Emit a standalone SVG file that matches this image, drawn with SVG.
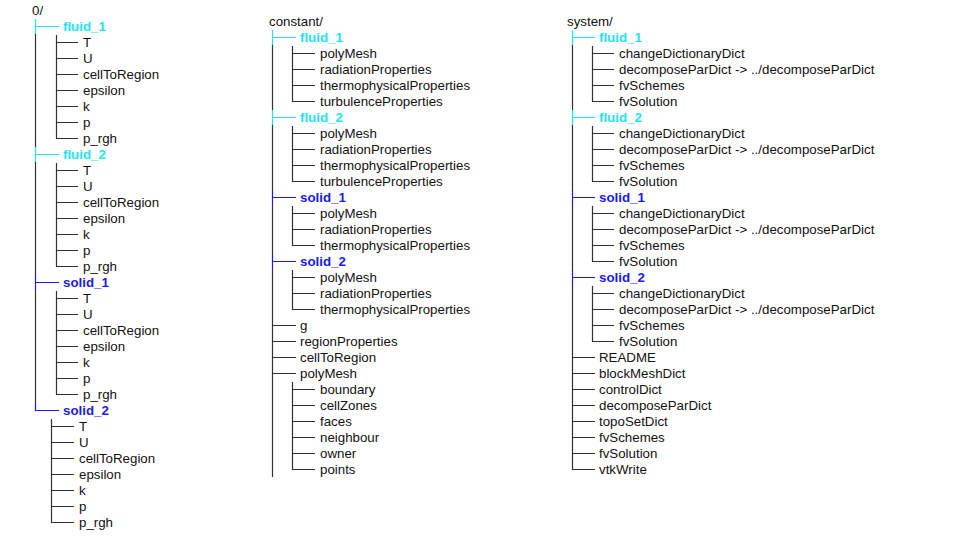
<svg xmlns="http://www.w3.org/2000/svg" width="960" height="540" viewBox="0 0 960 540">
<style>
text{font-family:"Liberation Sans",Arial,sans-serif;font-size:13.3px;fill:#111}
.b{font-weight:bold}
.c{fill:#1ee4f2}
.u{fill:#1a1af0}
.g{stroke:#333;stroke-width:1.2;fill:none}
.lc{stroke:#1ee4f2;stroke-width:1.2;fill:none}
.lu{stroke:#1a1af0;stroke-width:1.2;fill:none}
</style>
<rect width="960" height="540" fill="#fff"/>
<g id="connectors">
<!-- column 0/ -->
<path class="lc" d="M35.5 19V34M35.5 26.5H59M35.5 147V162M35.5 154.5H59"/>
<path class="lu" d="M35.5 275V290M35.5 282.5H59M35.5 403V410.5H59"/>
<path class="g" d="M35.5 34V147M35.5 162V275M35.5 290V403"/>
<path class="g" d="M56.5 35V138.5H78M56.5 42.5H78M56.5 58.5H78M56.5 74.5H78M56.5 90.5H78M56.5 106.5H78M56.5 122.5H78"/>
<path class="g" d="M56.5 163V266.5H78M56.5 170.5H78M56.5 186.5H78M56.5 202.5H78M56.5 218.5H78M56.5 234.5H78M56.5 250.5H78"/>
<path class="g" d="M56.5 291V394.5H78M56.5 298.5H78M56.5 314.5H78M56.5 330.5H78M56.5 346.5H78M56.5 362.5H78M56.5 378.5H78"/>
<path class="g" d="M51.5 419V522.5H74M51.5 426.5H74M51.5 442.5H74M51.5 458.5H74M51.5 474.5H74M51.5 490.5H74M51.5 506.5H74"/>
<!-- column constant/ -->
<path class="lc" d="M272.5 30V45M272.5 37.5H296M272.5 110V125M272.5 117.5H296"/>
<path class="lu" d="M272.5 190V205M272.5 197.5H296M272.5 254V269M272.5 261.5H296"/>
<path class="g" d="M272.5 45V110M272.5 125V190M272.5 205V254M272.5 269V477"/>
<path class="g" d="M272.5 325.5H296M272.5 341.5H296M272.5 357.5H296M272.5 373.5H296"/>
<path class="g" d="M292.5 46V101.5H315M292.5 53.5H315M292.5 69.5H315M292.5 85.5H315"/>
<path class="g" d="M292.5 126V181.5H315M292.5 133.5H315M292.5 149.5H315M292.5 165.5H315"/>
<path class="g" d="M292.5 206V245.5H315M292.5 213.5H315M292.5 229.5H315"/>
<path class="g" d="M292.5 270V309.5H315M292.5 277.5H315M292.5 293.5H315"/>
<path class="g" d="M292.5 382V469.5H315M292.5 389.5H315M292.5 405.5H315M292.5 421.5H315M292.5 437.5H315M292.5 453.5H315"/>
<!-- column system/ -->
<path class="lc" d="M572.5 30V45M572.5 37.5H595M572.5 110V125M572.5 117.5H595"/>
<path class="lu" d="M572.5 190V205M572.5 197.5H595M572.5 270V285M572.5 277.5H595"/>
<path class="g" d="M572.5 45V110M572.5 125V190M572.5 205V270M572.5 285V469.5H595"/>
<path class="g" d="M572.5 357.5H595M572.5 373.5H595M572.5 389.5H595M572.5 405.5H595M572.5 421.5H595M572.5 437.5H595M572.5 453.5H595"/>
<path class="g" d="M592.5 46V101.5H614M592.5 53.5H614M592.5 69.5H614M592.5 85.5H614"/>
<path class="g" d="M592.5 126V181.5H614M592.5 133.5H614M592.5 149.5H614M592.5 165.5H614"/>
<path class="g" d="M592.5 206V261.5H614M592.5 213.5H614M592.5 229.5H614M592.5 245.5H614"/>
<path class="g" d="M592.5 286V341.5H614M592.5 293.5H614M592.5 309.5H614M592.5 325.5H614"/>
</g>
<g id="dir-0">
<text x="32" y="15">0/</text>
<g id="zero-fluid_1">
<text class="b c" x="63" y="31">fluid_1</text>
<text x="83" y="47">T</text><text x="83" y="63">U</text><text x="83" y="79">cellToRegion</text><text x="83" y="95">epsilon</text><text x="83" y="111">k</text><text x="83" y="127">p</text><text x="83" y="143">p_rgh</text>
</g>
<g id="zero-fluid_2">
<text class="b c" x="63" y="159">fluid_2</text>
<text x="83" y="175">T</text><text x="83" y="191">U</text><text x="83" y="207">cellToRegion</text><text x="83" y="223">epsilon</text><text x="83" y="239">k</text><text x="83" y="255">p</text><text x="83" y="271">p_rgh</text>
</g>
<g id="zero-solid_1">
<text class="b u" x="63" y="287">solid_1</text>
<text x="83" y="303">T</text><text x="83" y="319">U</text><text x="83" y="335">cellToRegion</text><text x="83" y="351">epsilon</text><text x="83" y="367">k</text><text x="83" y="383">p</text><text x="83" y="399">p_rgh</text>
</g>
<g id="zero-solid_2">
<text class="b u" x="63" y="415">solid_2</text>
<text x="79" y="431">T</text><text x="79" y="447">U</text><text x="79" y="463">cellToRegion</text><text x="79" y="479">epsilon</text><text x="79" y="495">k</text><text x="79" y="511">p</text><text x="79" y="527">p_rgh</text>
</g>
</g>
<g id="dir-constant">
<text x="269" y="26">constant/</text>
<g id="constant-fluid_1">
<text class="b c" x="300" y="42">fluid_1</text>
<text x="320" y="58">polyMesh</text><text x="320" y="74">radiationProperties</text><text x="320" y="90">thermophysicalProperties</text><text x="320" y="106">turbulenceProperties</text>
</g>
<g id="constant-fluid_2">
<text class="b c" x="300" y="122">fluid_2</text>
<text x="320" y="138">polyMesh</text><text x="320" y="154">radiationProperties</text><text x="320" y="170">thermophysicalProperties</text><text x="320" y="186">turbulenceProperties</text>
</g>
<g id="constant-solid_1">
<text class="b u" x="300" y="202">solid_1</text>
<text x="320" y="218">polyMesh</text><text x="320" y="234">radiationProperties</text><text x="320" y="250">thermophysicalProperties</text>
</g>
<g id="constant-solid_2">
<text class="b u" x="300" y="266">solid_2</text>
<text x="320" y="282">polyMesh</text><text x="320" y="298">radiationProperties</text><text x="320" y="314">thermophysicalProperties</text>
</g>
<g id="constant-files">
<text x="300" y="330">g</text><text x="300" y="346">regionProperties</text><text x="300" y="362">cellToRegion</text>
</g>
<g id="constant-polyMesh">
<text x="300" y="378">polyMesh</text>
<text x="320" y="394">boundary</text><text x="320" y="410">cellZones</text><text x="320" y="426">faces</text><text x="320" y="442">neighbour</text><text x="320" y="458">owner</text><text x="320" y="474">points</text>
</g>
</g>
<g id="dir-system">
<text x="567" y="26">system/</text>
<g id="system-fluid_1">
<text class="b c" x="599" y="42">fluid_1</text>
<text x="619" y="58">changeDictionaryDict</text><text x="619" y="74">decomposeParDict -&gt; ../decomposeParDict</text><text x="619" y="90">fvSchemes</text><text x="619" y="106">fvSolution</text>
</g>
<g id="system-fluid_2">
<text class="b c" x="599" y="122">fluid_2</text>
<text x="619" y="138">changeDictionaryDict</text><text x="619" y="154">decomposeParDict -&gt; ../decomposeParDict</text><text x="619" y="170">fvSchemes</text><text x="619" y="186">fvSolution</text>
</g>
<g id="system-solid_1">
<text class="b u" x="599" y="202">solid_1</text>
<text x="619" y="218">changeDictionaryDict</text><text x="619" y="234">decomposeParDict -&gt; ../decomposeParDict</text><text x="619" y="250">fvSchemes</text><text x="619" y="266">fvSolution</text>
</g>
<g id="system-solid_2">
<text class="b u" x="599" y="282">solid_2</text>
<text x="619" y="298">changeDictionaryDict</text><text x="619" y="314">decomposeParDict -&gt; ../decomposeParDict</text><text x="619" y="330">fvSchemes</text><text x="619" y="346">fvSolution</text>
</g>
<g id="system-files">
<text x="599" y="362">README</text><text x="599" y="378">blockMeshDict</text><text x="599" y="394">controlDict</text><text x="599" y="410">decomposeParDict</text><text x="599" y="426">topoSetDict</text><text x="599" y="442">fvSchemes</text><text x="599" y="458">fvSolution</text><text x="599" y="474">vtkWrite</text>
</g>
</g>
</svg>
